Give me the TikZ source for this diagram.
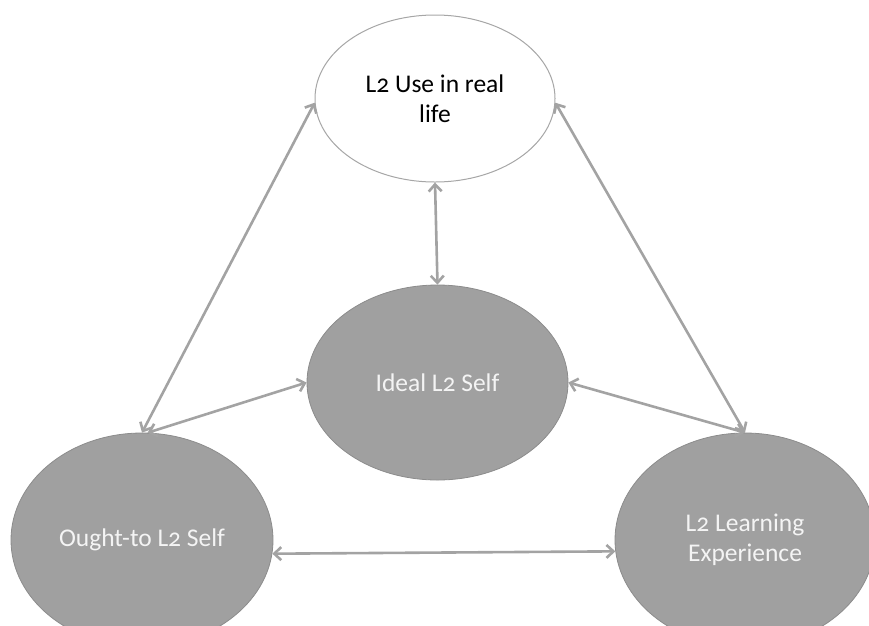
\documentclass[tikz,border=0pt]{standalone}
\usepackage{fontspec}
\setmainfont{Carlito}[Numbers=OldStyle]
\usetikzlibrary{shapes.geometric,arrows.meta}

\definecolor{bubblefill}{HTML}{A0A0A0}
\definecolor{bubbleline}{HTML}{8C8C8C}
\definecolor{linkgray}{HTML}{A3A3A3}
\definecolor{outline}{HTML}{A6A6A6}
\definecolor{labelwhite}{HTML}{F4F4F4}

\tikzset{
  bubble/.style={ellipse, inner sep=0pt, align=center,
    font=\fontsize{25.5}{29.5}\selectfont},
  solidbubble/.style={bubble, fill=bubblefill, draw=bubbleline,
    line width=0.8pt, text=labelwhite},
  openbubble/.style={bubble, fill=white, draw=outline,
    line width=1pt, text=black},
  link/.style={draw=linkgray, line width=2.6pt,
    {Straight Barb[length=7pt,width=13pt]}-{Straight Barb[length=7pt,width=13pt]}}
}

\begin{document}
\begin{tikzpicture}[x=1pt,y=-1pt]
  \clip (0,0) rectangle (869,625);
  \useasboundingbox (0,0) rectangle (869,625);

  \node[openbubble, minimum width=240pt, minimum height=167pt]
    (use) at (435,98.5) {L2 Use in real\\life};
  \node[solidbubble, minimum width=261pt, minimum height=195pt]
    (ideal) at (437.5,382.5) {Ideal L2 Self};
  \node[solidbubble, minimum width=262pt, minimum height=214pt]
    (ought) at (142,540) {Ought-to L2 Self};
  \node[solidbubble, minimum width=260pt, minimum height=214pt]
    (learn) at (745,540) {L2 Learning\\Experience};

  \draw[link] (use.182) -- (ought.north);
  \draw[link] (use.-2) -- (learn.north);
  \draw[link] (use.south) -- (ideal.north);
  \draw[link] (ought.87) -- (ideal.west);
  \draw[link] (ideal.east) -- (learn.north);
  \draw[link] (ought.-6) -- (learn.185.5);
\end{tikzpicture}
\end{document}
